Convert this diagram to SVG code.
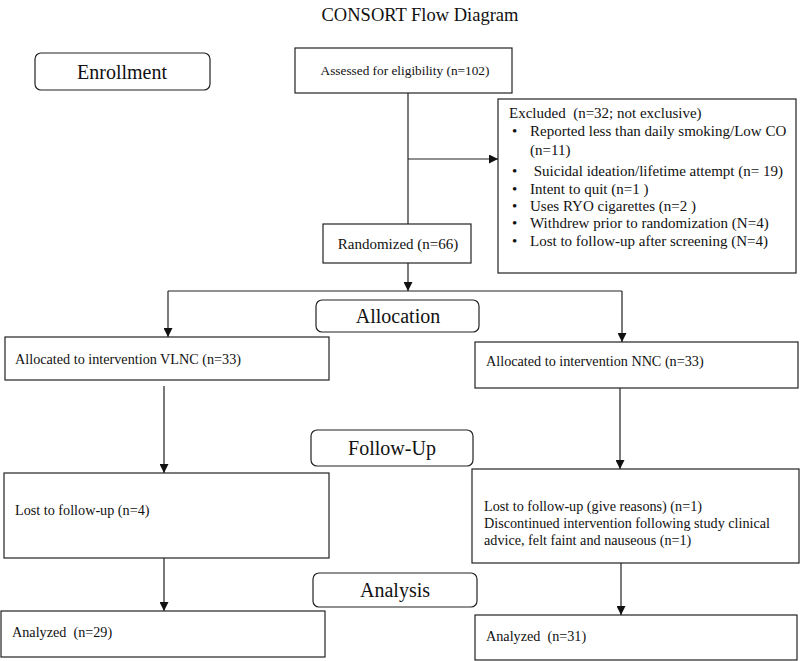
<svg xmlns="http://www.w3.org/2000/svg" width="800" height="661" viewBox="0 0 800 661">
<style>
.box{fill:#fff;stroke:#222;stroke-width:1.2}
.rbox{fill:#fff;stroke:#222;stroke-width:1.2}
.t{font-family:"Liberation Serif","DejaVu Serif",serif;font-size:14.2px;fill:#111;white-space:pre}
.x{font-size:15px}
.lab{font-family:"Liberation Serif","DejaVu Serif",serif;font-size:20px;fill:#111;text-anchor:middle}
.title{font-family:"Liberation Serif","DejaVu Serif",serif;font-size:18.5px;fill:#111;text-anchor:middle}
.c{fill:none;stroke:#222;stroke-width:1.2}
</style>
<defs>
<marker id="ah" viewBox="0 0 10 10" refX="10" refY="5" markerWidth="9" markerHeight="9" markerUnits="userSpaceOnUse" orient="auto">
<path d="M0,0 L10,5 L0,10 z" fill="#111"/>
</marker>
</defs>
<rect width="800" height="661" fill="#fff"/>
<text class="title" x="420" y="21">CONSORT Flow Diagram</text>

<g id="connectors">
<path class="c" d="M408,93 V224"/>
<path class="c" d="M408,159 H498" marker-end="url(#ah)"/>
<path class="c" d="M408,263 V291" marker-end="url(#ah)"/>
<path class="c" d="M168,291 H622"/>
<path class="c" d="M168,291 V337" marker-end="url(#ah)"/>
<path class="c" d="M622,291 V342" marker-end="url(#ah)"/>
<path class="c" d="M164,386 V473" marker-end="url(#ah)"/>
<path class="c" d="M620,386 V469" marker-end="url(#ah)"/>
<path class="c" d="M164,557 V611" marker-end="url(#ah)"/>
<path class="c" d="M621,563 V615" marker-end="url(#ah)"/>
</g>

<g id="enrollment"><rect class="rbox" x="35" y="53" width="175" height="37" rx="6"/><text class="lab" x="122" y="79">Enrollment</text></g>
<g id="assessed"><rect class="box" x="295" y="48" width="217" height="45"/><text class="t" x="405" y="75" text-anchor="middle" style="font-size:13.3px">Assessed for eligibility (n=102)</text></g>
<g id="excluded"><rect class="box" x="498" y="99" width="298" height="174"/>
<text class="t x" x="509" y="118">Excluded  (n=32; not exclusive)</text>
<text class="t x" x="512" y="136">•</text><text class="t x" x="530" y="136">Reported less than daily smoking/Low CO</text>
<text class="t x" x="530" y="155">(n=11)</text>
<text class="t x" x="512" y="176">•</text><text class="t x" x="530" y="176"> Suicidal ideation/lifetime attempt (n= 19)</text>
<text class="t x" x="512" y="194">•</text><text class="t x" x="530" y="194">Intent to quit (n=1 )</text>
<text class="t x" x="512" y="211">•</text><text class="t x" x="530" y="211">Uses RYO cigarettes (n=2 )</text>
<text class="t x" x="512" y="228">•</text><text class="t x" x="530" y="228">Withdrew prior to randomization (N=4)</text>
<text class="t x" x="512" y="246">•</text><text class="t x" x="530" y="246">Lost to follow-up after screening (N=4)</text>
</g>
<g id="randomized"><rect class="box" x="323" y="224" width="148" height="39"/><text class="t x" x="398" y="249" text-anchor="middle">Randomized (n=66)</text></g>
<g id="allocation"><rect class="rbox" x="316" y="300" width="163" height="32" rx="6"/><text class="lab" x="398" y="323">Allocation</text></g>
<g id="vlnc"><rect class="box" x="5" y="337" width="324" height="43"/><text class="t" x="15" y="364">Allocated to intervention VLNC (n=33)</text></g>
<g id="nnc"><rect class="box" x="475" y="342" width="323" height="46"/><text class="t" x="486" y="366">Allocated to intervention NNC (n=33)</text></g>
<g id="followup"><rect class="rbox" x="311" y="430" width="162" height="36" rx="6"/><text class="lab" x="392" y="455">Follow-Up</text></g>
<g id="lost-vlnc"><rect class="box" x="4" y="473" width="325" height="85"/><text class="t" x="15" y="515">Lost to follow-up (n=4)</text></g>
<g id="lost-nnc"><rect class="box" x="472" y="469" width="327" height="94"/>
<text class="t" x="484" y="511">Lost to follow-up (give reasons) (n=1)</text>
<text class="t" x="484" y="528">Discontinued intervention following study clinical</text>
<text class="t" x="484" y="545">advice, felt faint and nauseous (n=1)</text>
</g>
<g id="analysis"><rect class="rbox" x="313" y="573" width="164" height="34" rx="6"/><text class="lab" x="395" y="597">Analysis</text></g>
<g id="analyzed-vlnc"><rect class="box" x="1" y="611" width="324" height="46"/><text class="t" x="12" y="637">Analyzed  (n=29)</text></g>
<g id="analyzed-nnc"><rect class="box" x="475" y="615" width="322" height="45"/><text class="t" x="486" y="641">Analyzed  (n=31)</text></g>
</svg>
